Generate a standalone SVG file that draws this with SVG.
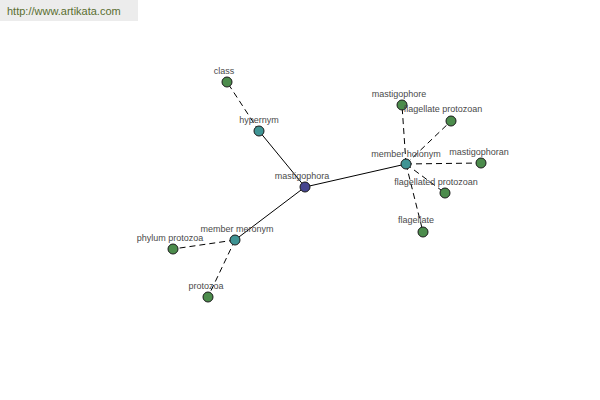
<svg xmlns="http://www.w3.org/2000/svg" width="600" height="400" viewBox="0 0 600 400">
<style>
.lbl{font-family:"Liberation Sans",Arial,sans-serif;font-size:9px;fill:#4a4a4a;text-anchor:middle}
.n{stroke:#1a1a1a;stroke-width:1}
.g{fill:#4c8c4c}
.t{fill:#3f9494}
.c{fill:#45458f}
.solid{stroke:#000;stroke-width:1;fill:none}
.dash{stroke:#000;stroke-width:1;fill:none;stroke-dasharray:6,4}
</style>
<rect width="600" height="400" fill="#ffffff"/>
<rect x="0" y="0" width="138" height="21" fill="#ececec"/>
<text x="7" y="15" font-family="Liberation Sans,Arial,sans-serif" font-size="11" fill="#5a6e30">http://www.artikata.com</text>
<g id="connectors">
<line class="solid" x1="305" y1="187" x2="259" y2="131"/>
<line class="solid" x1="305" y1="187" x2="406" y2="164"/>
<line class="solid" x1="305" y1="187" x2="235" y2="240"/>
<line class="dash" x1="259" y1="131" x2="227" y2="82"/>
<line class="dash" x1="406" y1="164" x2="402" y2="105"/>
<line class="dash" x1="406" y1="164" x2="451" y2="121"/>
<line class="dash" x1="406" y1="164" x2="481" y2="163"/>
<line class="dash" x1="406" y1="164" x2="445" y2="193"/>
<line class="dash" x1="406" y1="164" x2="423" y2="232"/>
<line class="dash" x1="235" y1="240" x2="173" y2="249"/>
<line class="dash" x1="235" y1="240" x2="208" y2="297"/>
</g>
<g id="class"><circle class="n g" cx="227" cy="82" r="5"/><text class="lbl" x="224" y="74">class</text></g>
<g id="hypernym"><circle class="n t" cx="259" cy="131" r="5"/><text class="lbl" x="259" y="123">hypernym</text></g>
<g id="mastigophora"><circle class="n c" cx="305" cy="187" r="5"/><text class="lbl" x="302" y="179">mastigophora</text></g>
<g id="member-holonym"><circle class="n t" cx="406" cy="164" r="5"/><text class="lbl" x="406" y="157">member holonym</text></g>
<g id="mastigophore"><circle class="n g" cx="402" cy="105" r="5"/><text class="lbl" x="399" y="97">mastigophore</text></g>
<g id="flagellate-protozoan"><circle class="n g" cx="451" cy="121" r="5"/><text class="lbl" x="443" y="112">flagellate protozoan</text></g>
<g id="mastigophoran"><circle class="n g" cx="481" cy="163" r="5"/><text class="lbl" x="479" y="155">mastigophoran</text></g>
<g id="flagellated-protozoan"><circle class="n g" cx="445" cy="193" r="5"/><text class="lbl" x="436" y="185">flagellated protozoan</text></g>
<g id="flagellate"><circle class="n g" cx="423" cy="232" r="5"/><text class="lbl" x="416" y="223">flagellate</text></g>
<g id="member-meronym"><circle class="n t" cx="235" cy="240" r="5"/><text class="lbl" x="237" y="232">member meronym</text></g>
<g id="phylum-protozoa"><circle class="n g" cx="173" cy="249" r="5"/><text class="lbl" x="170" y="241">phylum protozoa</text></g>
<g id="protozoa"><circle class="n g" cx="208" cy="297" r="5"/><text class="lbl" x="206" y="289">protozoa</text></g>
</svg>
